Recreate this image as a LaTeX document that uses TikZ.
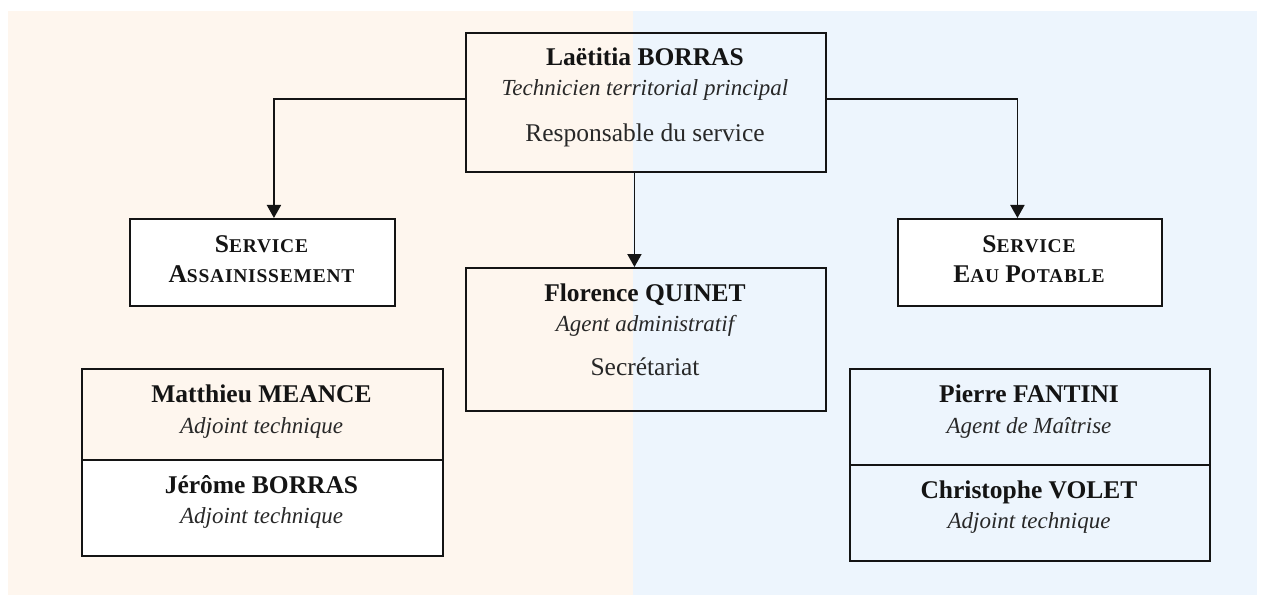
\documentclass[tikz,border=0pt]{standalone}
\usepackage{fontspec}
\setmainfont{Liberation Serif}
\newfontfamily\scbfont[LetterSpace=4]{Liberation Serif}
\usetikzlibrary{arrows.meta}
\definecolor{peach}{RGB}{254,246,238}
\definecolor{skyb}{RGB}{237,245,253}
\definecolor{ink}{RGB}{20,20,20}
\definecolor{inkit}{RGB}{40,40,40}
\newcommand{\bigsc}[1]{{\fontsize{25.5}{30}\selectfont #1}}
\newcommand{\smlsc}[1]{{\fontsize{19.5}{24}\selectfont #1}}
\begin{document}
\begin{tikzpicture}[x=1pt,y=-1pt,
  box/.style={draw=ink, line width=1.9pt, rectangle, inner sep=0pt, anchor=north west},
  namet/.style={anchor=base, text=ink, font=\fontsize{25.5}{30}\selectfont\bfseries, inner sep=0pt},
  rolet/.style={anchor=base, text=inkit, font=\fontsize{23}{27}\selectfont\itshape, inner sep=0pt},
  plaint/.style={anchor=base, text=inkit, font=\fontsize{25.5}{30}\selectfont, inner sep=0pt},
  sct/.style={anchor=base, text=ink, font=\scbfont\bfseries\fontsize{19.5}{24}\selectfont, inner sep=0pt},
  arr/.style={draw=ink, line width=1.9pt, -{Triangle[length=13pt,width=14pt]}}]
\useasboundingbox (0,0) rectangle (1271,596);
\fill[peach] (8,11) rectangle (633,595);
\fill[skyb] (633,11) rectangle (1257,595);

% boxes
\node[box, minimum width=360pt, minimum height=139pt] (top) at (465,32) {};
\node[box, fill=white, minimum width=265pt, minimum height=87pt] (lsvc) at (129,218) {};
\node[box, fill=white, minimum width=264pt, minimum height=87pt] (rsvc) at (897,218) {};
\node[box, minimum width=360pt, minimum height=143pt] (flo) at (465,267) {};
\node[box, minimum width=361pt, minimum height=91pt] (mat) at (81,368) {};
\node[box, fill=white, minimum width=361pt, minimum height=96pt] (jer) at (81,459) {};
\node[box, minimum width=360pt, minimum height=96pt] (pie) at (849,368) {};
\node[box, minimum width=360pt, minimum height=96pt] (chr) at (849,464) {};

% texts
\node[namet] (t1) at (645,66) {La\"etitia BORRAS};
\node[rolet] (t2) at (645,96) {Technicien territorial principal};
\node[plaint] (t3) at (645,142) {Responsable du service};

\node[sct] (s1) at (261.5,252) {\bigsc{S}\smlsc{ERVICE}};
\node[sct] (s2) at (261.5,282) {\bigsc{A}\smlsc{SSAINISSEMENT}};
\node[sct] (s3) at (1029,252) {\bigsc{S}\smlsc{ERVICE}};
\node[sct] (s4) at (1029,282) {\bigsc{E}\smlsc{AU}\hspace{6pt}\bigsc{P}\smlsc{OTABLE}};

\node[namet] (f1) at (645,301) {Florence QUINET};
\node[rolet] (f2) at (645,331) {Agent administratif};
\node[plaint] (f3) at (645,375) {Secr\'etariat};

\node[namet] (m1) at (261.5,402) {Matthieu MEANCE};
\node[rolet] (m2) at (261.5,433) {Adjoint technique};
\node[namet] (j1) at (261.5,493) {J\'er\^ome BORRAS};
\node[rolet] (j2) at (261.5,523) {Adjoint technique};

\node[namet] (p1) at (1029,402) {Pierre FANTINI};
\node[rolet] (p2) at (1029,433) {Agent de Ma\^itrise};
\node[namet] (c1) at (1029,498) {Christophe VOLET};
\node[rolet] (c2) at (1029,528) {Adjoint technique};

% connectors
\draw[arr] ([yshift=3.5pt]top.west) -| ([xshift=11.5pt]lsvc.north);
\draw[arr] ([yshift=3.5pt]top.east) -| ([xshift=-12.5pt]rsvc.north);
\draw[arr] ([xshift=-11.5pt]top.south) -- ([xshift=-11.5pt]flo.north);
\end{tikzpicture}
\end{document}
